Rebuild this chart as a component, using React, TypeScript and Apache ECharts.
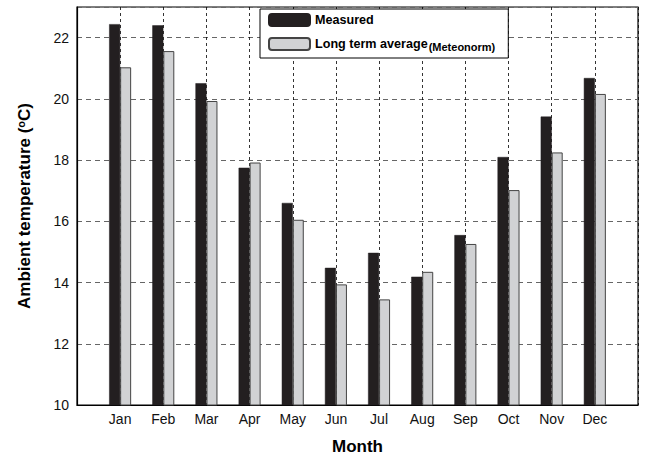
import React, { useEffect, useRef } from "react";
import * as echarts from "echarts";

const months = ["Jan", "Feb", "Mar", "Apr", "May", "Jun", "Jul", "Aug", "Sep", "Oct", "Nov", "Dec"];
const measured = [22.44, 22.4, 20.51, 17.75, 16.6, 14.48, 14.97, 14.19, 15.55, 18.1, 19.42, 20.68];
const longTerm = [21.03, 21.56, 19.93, 17.92, 16.05, 13.94, 13.45, 14.35, 15.26, 17.02, 18.25, 20.16];
const yMin = 10;
const yMax = 23;
const yInterval = 2;

export default function App() {
  const ref = useRef<HTMLDivElement>(null);
  useEffect(() => {
    if (!ref.current) return;
    const chart = echarts.init(ref.current, null, { renderer: "svg" });
    const cats = ["", ...months, ""];
    const pad = (a: number[]) => [null, ...a, null];
    const font = "Liberation Sans";
    chart.setOption({
      animation: false,
      textStyle: { fontFamily: font },
      grid: {
        left: 77,
        right: 13,
        top: 7,
        bottom: 53,
        containLabel: false,
        outerBoundsMode: "none",
        show: true,
        borderColor: "#000",
        borderWidth: 1.2,
        backgroundColor: "transparent",
      },
      legend: {
        orient: "vertical",
        left: 260,
        top: 9,
        backgroundColor: "#fff",
        borderColor: "#000",
        borderWidth: 1,
        borderRadius: 0,
        padding: [4, 13, 6, 8],
        itemWidth: 41,
        itemHeight: 12,
        itemGap: 6,
        selectedMode: false,
        data: ["Measured", "Long term average"],
        formatter: (name: string) =>
          name === "Measured" ? "{m|Measured}" : "{m|Long term average}{s|(Meteonorm)}",
        textStyle: {
          rich: {
            m: { fontSize: 12.6, fontWeight: "bold", color: "#000", fontFamily: font, lineHeight: 16 },
            s: {
              fontSize: 11,
              fontWeight: "bold",
              color: "#000",
              fontFamily: font,
              lineHeight: 16,
              verticalAlign: "bottom",
              padding: [8, 0, 0, 1],
            },
          },
        },
      },
      xAxis: {
        type: "category",
        data: cats,
        boundaryGap: false,
        name: "Month",
        nameLocation: "middle",
        nameGap: 33,
        nameTextStyle: { fontSize: 17, fontWeight: "bold", color: "#000", fontFamily: font },
        axisLine: { show: true, lineStyle: { color: "#000", width: 1.2 } },
        axisTick: { show: false },
        axisLabel: { interval: 0, color: "#111", fontSize: 14, margin: 7, fontFamily: font },
        splitLine: {
          show: true,
          interval: 0,
          lineStyle: { color: "#000", type: [3, 3], width: 0.8 },
        },
      },
      yAxis: {
        type: "value",
        min: yMin,
        max: yMax,
        interval: yInterval,
        name: "Ambient temperature ({sup|o}C)",
        nameLocation: "middle",
        nameGap: 44,
        nameTextStyle: {
          fontSize: 17,
          fontWeight: "bold",
          color: "#000",
          fontFamily: font,
          rich: {
            sup: { fontSize: 11, fontWeight: "bold", color: "#000", verticalAlign: "top", padding: [0, 0, 7, 0], fontFamily: font },
          },
        },
        axisLine: { show: true, lineStyle: { color: "#000", width: 1.2 } },
        axisTick: { show: false },
        axisLabel: {
          color: "#111",
          fontSize: 14,
          margin: 8,
          fontFamily: font,
          formatter: (v: number) => (v > 22 ? "" : String(v)),
        },
        splitLine: {
          show: true,
          lineStyle: { color: "#666", type: [5, 4], width: 1 },
        },
      },
      series: [
        {
          name: "Measured",
          type: "bar",
          data: pad(measured),
          barWidth: 11,
          barGap: "0%",
          itemStyle: { color: "#231f20", borderColor: "#231f20", borderWidth: 0.5 },
        },
        {
          name: "Long term average",
          type: "bar",
          data: pad(longTerm),
          barWidth: 11,
          barGap: "0%",
          itemStyle: { color: "#d1d2d4", borderColor: "#444", borderWidth: 1 },
        },
      ],
    });
    return () => chart.dispose();
  }, []);
  return (
    <div
      ref={ref}
      style={{ position: "absolute", left: 0, top: 0, width: 651, height: 458 }}
    />
  );
}
